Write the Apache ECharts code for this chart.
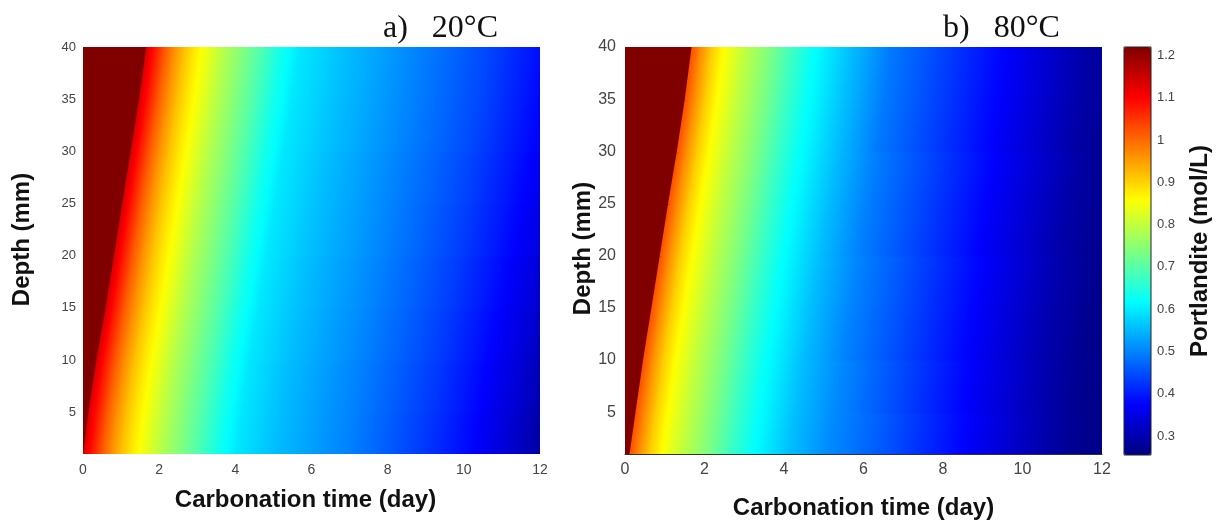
<!DOCTYPE html>
<html><head><meta charset="utf-8">
<script src="https://cdn.jsdelivr.net/npm/echarts@6/dist/echarts.min.js"></script>
<style>html,body{margin:0;padding:0;background:#fff}#c{width:1220px;height:522px}</style>
</head><body><div id="c"></div>
<script>
// ---- data ----
const panelTitles = ['a)   20°C', 'b)   80°C'];
const xTicks = [0, 2, 4, 6, 8, 10, 12];
const yTicks = [5, 10, 15, 20, 25, 30, 35, 40];
const cbTicks = [0.3, 0.4, 0.5, 0.6, 0.7, 0.8, 0.9, 1, 1.1, 1.2];
const vMin = 0.255, vMax = 1.22;
// depth band edges (mm)
const depthEdges = [1, 5, 10, 15, 20, 25, 30, 35, 40];
// carbonation front position (day) at each depth edge
const frontA = [0.03, 0.17, 0.38, 0.62, 0.84, 1.06, 1.28, 1.50, 1.69];
const frontB = [0.14, 0.29, 0.48, 0.69, 0.90, 1.11, 1.33, 1.53, 1.70];
// time behind the front (day) at which values were read
const uSamples = [-3, 0, 0, 0.25, 0.5, 0.75, 1, 1.25, 1.5, 2, 2.5, 3, 3.5, 4, 5, 6, 7, 8, 9, 10, 11, 12];
// portlandite (mol/L), one row per depth band (bottom to top)
const valuesA = [
  [1.22,1.22,1.13,1.07,1.01,0.96,0.915,0.88,0.85,0.79,0.74,0.69,0.635,0.595,0.555,0.525,0.495,0.46,0.425,0.385,0.34,0.285],
  [1.22,1.22,1.13,1.07,1.01,0.96,0.915,0.88,0.85,0.79,0.74,0.69,0.635,0.595,0.555,0.525,0.495,0.462,0.427,0.387,0.342,0.29],
  [1.22,1.22,1.13,1.07,1.01,0.96,0.915,0.88,0.85,0.79,0.74,0.69,0.635,0.595,0.557,0.527,0.497,0.464,0.43,0.39,0.345,0.295],
  [1.22,1.22,1.13,1.07,1.01,0.96,0.915,0.88,0.85,0.79,0.74,0.69,0.635,0.595,0.558,0.528,0.498,0.466,0.432,0.393,0.348,0.30],
  [1.22,1.22,1.13,1.07,1.01,0.96,0.915,0.88,0.85,0.79,0.74,0.69,0.635,0.595,0.56,0.53,0.50,0.468,0.435,0.396,0.352,0.305],
  [1.22,1.22,1.13,1.07,1.01,0.96,0.915,0.88,0.85,0.79,0.74,0.69,0.635,0.595,0.56,0.53,0.50,0.47,0.437,0.398,0.355,0.31],
  [1.22,1.22,1.13,1.07,1.01,0.96,0.915,0.88,0.85,0.79,0.74,0.69,0.635,0.595,0.562,0.532,0.502,0.472,0.44,0.40,0.36,0.315],
  [1.22,1.22,1.13,1.07,1.01,0.96,0.915,0.88,0.85,0.79,0.74,0.69,0.635,0.595,0.562,0.532,0.502,0.472,0.44,0.40,0.36,0.315]
];
const valuesB = [
  [1.22,1.22,1.02,0.96,0.905,0.865,0.835,0.805,0.78,0.73,0.675,0.625,0.59,0.555,0.505,0.47,0.43,0.39,0.35,0.31,0.275,0.26],
  [1.22,1.22,1.02,0.96,0.905,0.865,0.835,0.805,0.78,0.73,0.675,0.625,0.59,0.555,0.505,0.465,0.425,0.385,0.345,0.305,0.272,0.26],
  [1.22,1.22,1.02,0.96,0.905,0.865,0.835,0.805,0.78,0.73,0.675,0.625,0.59,0.555,0.50,0.46,0.42,0.38,0.34,0.30,0.27,0.26],
  [1.22,1.22,1.02,0.96,0.905,0.865,0.835,0.805,0.78,0.73,0.675,0.625,0.59,0.555,0.50,0.46,0.42,0.38,0.34,0.30,0.27,0.26],
  [1.22,1.22,1.02,0.96,0.905,0.865,0.835,0.805,0.78,0.73,0.675,0.625,0.59,0.555,0.495,0.455,0.415,0.375,0.335,0.295,0.27,0.26],
  [1.22,1.22,1.02,0.96,0.905,0.865,0.835,0.805,0.78,0.73,0.675,0.625,0.59,0.555,0.495,0.455,0.415,0.375,0.335,0.295,0.268,0.26],
  [1.22,1.22,1.02,0.96,0.905,0.865,0.835,0.805,0.78,0.73,0.675,0.625,0.59,0.555,0.49,0.45,0.41,0.37,0.33,0.29,0.268,0.26],
  [1.22,1.22,1.02,0.96,0.905,0.865,0.835,0.805,0.78,0.73,0.675,0.625,0.59,0.555,0.49,0.45,0.41,0.37,0.33,0.29,0.265,0.26]
];
const jetColors = ['#000080','#0000ff','#0080ff','#00ffff','#80ff80','#ffff00','#ff8000','#ff0000','#800000'];

// ---- rendering ----
const FONT = 'Liberation Sans, Arial, sans-serif';
const jetRgb = jetColors.map(h => [parseInt(h.slice(1,3),16), parseInt(h.slice(3,5),16), parseInt(h.slice(5,7),16)]);
function jet(v) {
  let p = (v - vMin) / (vMax - vMin);
  p = Math.max(0, Math.min(1, p)) * (jetRgb.length - 1);
  const i = Math.min(Math.floor(p), jetRgb.length - 2), f = p - i;
  const a = jetRgb[i], b = jetRgb[i + 1];
  return 'rgb(' + a.map((c, k) => Math.round(c + (b[k] - c) * f)).join(',') + ')';
}
function buildData(values) {
  const out = [];
  for (let k = 0; k < values.length; k++)
    for (let j = 0; j < uSamples.length - 1; j++) out.push([k, j, values[k][j]]);
  return out;
}
function makeRender(values, front) {
  return function (params, api) {
    const k = api.value(0), j = api.value(1);
    const u0 = uSamples[j], u1 = uSamples[j + 1];
    if (u1 === undefined || u1 <= u0) return null;
    const v0 = values[k][j], v1 = values[k][j + 1];
    const d0 = depthEdges[k], d1 = depthEdges[k + 1], f0 = front[k], f1 = front[k + 1];
    const BL = api.coord([u0 + f0, d0]), BR = api.coord([u1 + f0, d0]);
    const TR = api.coord([u1 + f1, d1]), TL = api.coord([u0 + f1, d1]);
    const ex = TL[0] - BL[0], ey = TL[1] - BL[1], len = Math.hypot(ex, ey);
    const nx = -ey / len, ny = ex / len;
    const w = (BR[0] - BL[0]) * nx + (BR[1] - BL[1]) * ny;
    const stops = [0, 0.25, 0.5, 0.75, 1].map(t => ({offset: t, color: jet(v0 + (v1 - v0) * t)}));
    const grad = new echarts.graphic.LinearGradient(BL[0], BL[1], BL[0] + nx * w, BL[1] + ny * w, stops, true);
    return {type: 'polygon', shape: {points: [BL, BR, TR, TL]}, style: {fill: grad, stroke: grad, lineWidth: 2}};
  };
}
function xAx(gi, fs, margin, gap, line, pad) {
  return {gridIndex: gi, type: 'value', min: 0, max: 12, interval: 2,
    axisLine: {show: line, lineStyle: {color: '#333', width: 1}}, axisTick: {show: false}, splitLine: {show: false},
    axisLabel: {fontSize: fs, color: '#444', margin: margin, fontFamily: FONT, customValues: xTicks},
    name: 'Carbonation time (day)', nameLocation: 'middle', nameGap: gap, nameMoveOverlap: false,
    nameTextStyle: {fontSize: 24, fontWeight: 'bold', color: '#111', fontFamily: FONT, padding: pad}};
}
function yAx(gi, fs, margin, gap, pad) {
  return {gridIndex: gi, type: 'value', min: 1, max: 40,
    axisLine: {show: false}, axisTick: {show: false}, splitLine: {show: false},
    axisLabel: {fontSize: fs, color: '#444', margin: margin, fontFamily: FONT, customValues: yTicks},
    name: 'Depth (mm)', nameLocation: 'middle', nameRotate: 90, nameGap: gap, nameMoveOverlap: false,
    nameTextStyle: {fontSize: 24, fontWeight: 'bold', color: '#111', fontFamily: FONT, padding: pad}};
}
const chart = echarts.init(document.getElementById('c'), null, {renderer: 'canvas'});
chart.setOption({
  animation: false,
  backgroundColor: '#fff',
  title: [
    {text: panelTitles[0], left: 383, top: 13, padding: 0, textStyle: {fontFamily: 'Liberation Serif, Times New Roman, serif', fontSize: 32, fontWeight: 'normal', color: '#111'}},
    {text: panelTitles[1], left: 943, top: 13, padding: 0, textStyle: {fontFamily: 'Liberation Serif, Times New Roman, serif', fontSize: 32, fontWeight: 'normal', color: '#111'}}
  ],
  grid: [
    {left: 83, top: 47, width: 457, height: 407, outerBoundsMode: 'none', containLabel: false},
    {left: 625, top: 47, width: 477, height: 407, outerBoundsMode: 'none', containLabel: false},
    {left: 1124, top: 47, width: 27, height: 408, outerBoundsMode: 'none', containLabel: false, show: true, borderColor: '#222', borderWidth: 1, backgroundColor: 'transparent', z: 6}
  ],
  xAxis: [
    xAx(0, 14, 9, 34, false, [0, 12, 0, 0]),
    xAx(1, 16, 8, 42, true, [0, 0, 0, 0]),
    {gridIndex: 2, type: 'value', min: 0, max: 1, show: false}
  ],
  yAxis: [
    yAx(0, 13, 7, 49, [0, 0, 0, 22]),
    yAx(1, 16, 9, 30, [0, 0, 0, 4]),
    {gridIndex: 2, type: 'value', position: 'right', min: vMin, max: vMax,
      axisLine: {show: false}, splitLine: {show: false},
      axisTick: {show: true, length: 4, customValues: cbTicks, lineStyle: {color: '#222'}},
      axisLabel: {fontSize: 13, color: '#444', margin: 6, fontFamily: FONT, customValues: cbTicks},
      name: 'Portlandite (mol/L)', nameLocation: 'middle', nameRotate: 90, nameGap: 37, nameMoveOverlap: false,
      nameTextStyle: {fontSize: 24, fontWeight: 'bold', color: '#111', fontFamily: FONT}}
  ],
  visualMap: {
    type: 'continuous', min: vMin, max: vMax, seriesIndex: [0, 1], dimension: 2,
    inRange: {color: jetColors}, orient: 'vertical', left: 1124, top: 47,
    itemWidth: 27, itemHeight: 408, padding: 0, calculable: false, hoverLink: false, text: null, z: 4
  },
  series: [
    {type: 'custom', xAxisIndex: 0, yAxisIndex: 0, clip: true, silent: true, data: buildData(valuesA), renderItem: makeRender(valuesA, frontA)},
    {type: 'custom', xAxisIndex: 1, yAxisIndex: 1, clip: true, silent: true, data: buildData(valuesB), renderItem: makeRender(valuesB, frontB)}
  ]
});
</script></body></html>
